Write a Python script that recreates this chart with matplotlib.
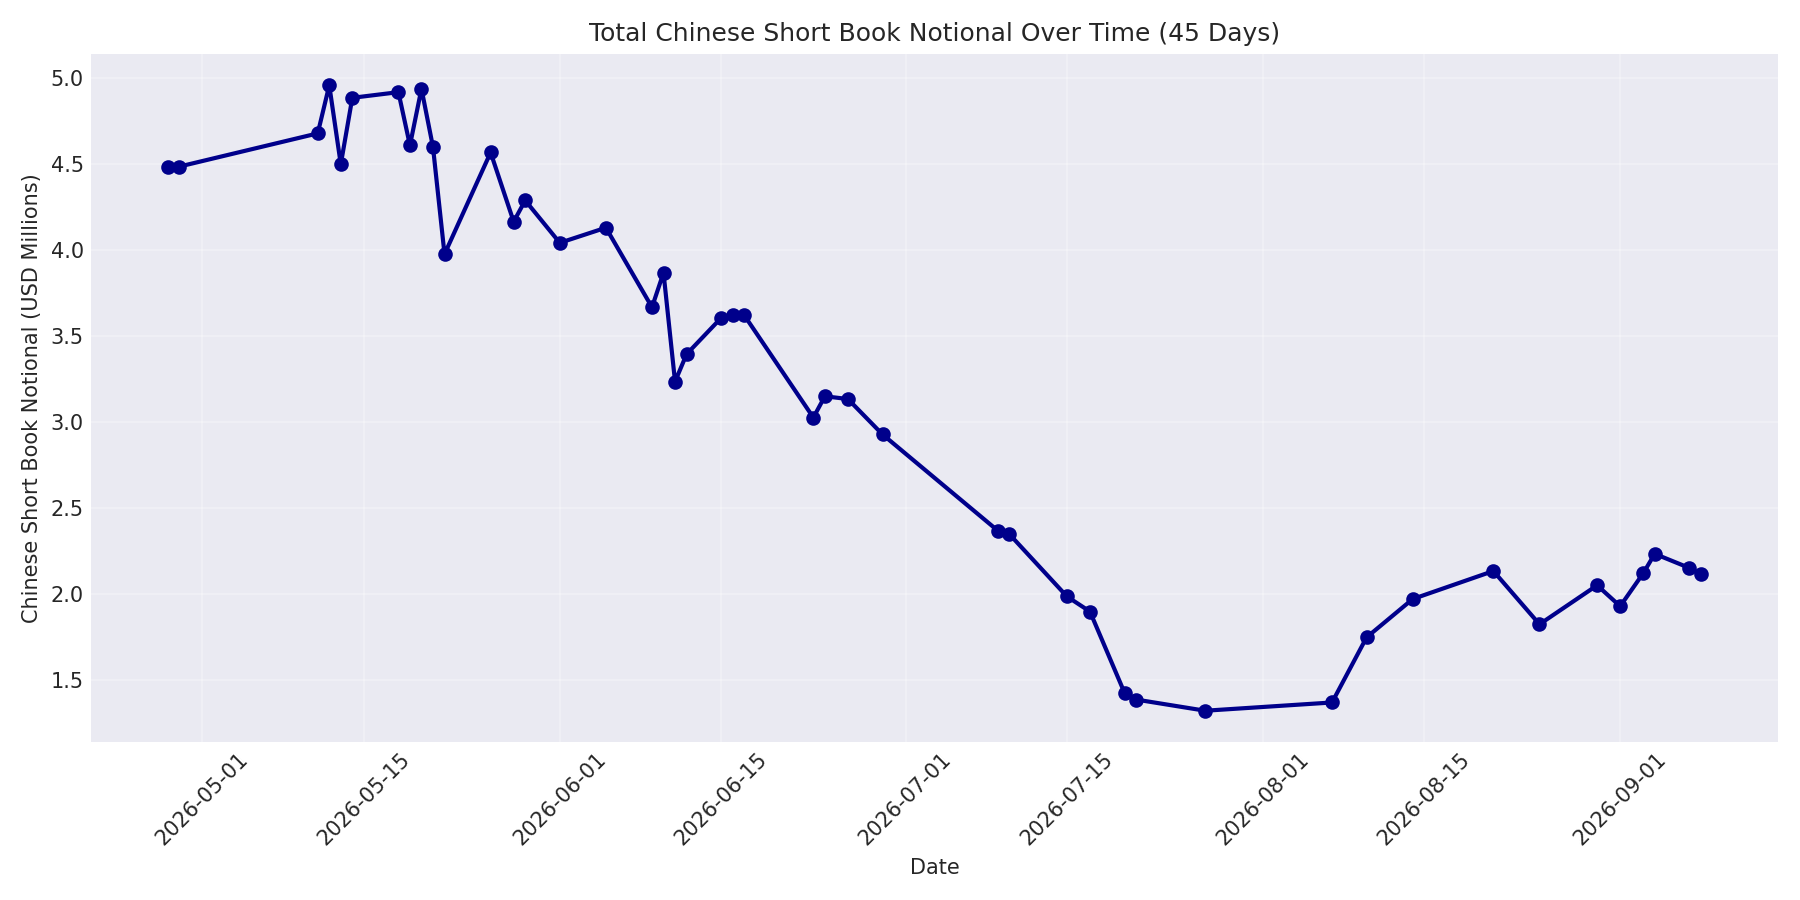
import matplotlib
matplotlib.use("Agg")
import matplotlib.pyplot as plt
import matplotlib.dates as mdates
import pandas as pd

# dates of each snapshot and the short book notional (USD millions)
dates = [
    "2026-04-28", "2026-04-29", "2026-05-11", "2026-05-12", "2026-05-13",
    "2026-05-14", "2026-05-18", "2026-05-19", "2026-05-20", "2026-05-21",
    "2026-05-22", "2026-05-26", "2026-05-28", "2026-05-29", "2026-06-01",
    "2026-06-05", "2026-06-09", "2026-06-10", "2026-06-11", "2026-06-12",
    "2026-06-15", "2026-06-16", "2026-06-17", "2026-06-23", "2026-06-24",
    "2026-06-26", "2026-06-29", "2026-07-09", "2026-07-10", "2026-07-15",
    "2026-07-17", "2026-07-20", "2026-07-21", "2026-07-27", "2026-08-07",
    "2026-08-10", "2026-08-14", "2026-08-21", "2026-08-25", "2026-08-30",
    "2026-09-01", "2026-09-03", "2026-09-04", "2026-09-07", "2026-09-08",
]
notional = [
    4.483, 4.487, 4.68, 4.96, 4.50,
    4.887, 4.92, 4.61, 4.94, 4.60,
    3.977, 4.569, 4.166, 4.29, 4.043,
    4.131, 3.668, 3.869, 3.235, 3.395,
    3.606, 3.622, 3.622, 3.026, 3.15,
    3.134, 2.928, 2.368, 2.348, 1.985,
    1.897, 1.424, 1.385, 1.32, 1.368,
    1.747, 1.97, 2.133, 1.823, 2.05,
    1.928, 2.12, 2.233, 2.151, 2.113,
]

df = pd.DataFrame({"date": pd.to_datetime(dates), "notional": notional})

plt.style.use("seaborn-v0_8-darkgrid")
plt.rcParams["font.family"] = ["DejaVu Sans"]
fig, ax = plt.subplots(figsize=(12, 6), dpi=150)
ax.plot(df["date"], df["notional"], marker="o", color="darkblue",
        linewidth=2, markersize=6)
ax.set_title("Total Chinese Short Book Notional Over Time (45 Days)", fontsize=12)
ax.set_xlabel("Date")
ax.set_ylabel("Chinese Short Book Notional (USD Millions)")
ax.xaxis.set_major_formatter(mdates.DateFormatter("%Y-%m-%d"))
plt.xticks(rotation=45)
ax.grid(True, alpha=0.3)
plt.tight_layout()
plt.savefig("out.png")
